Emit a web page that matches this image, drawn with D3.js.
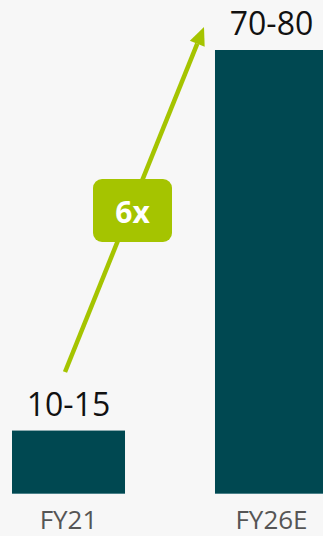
<!DOCTYPE html>
<html>
<head>
<meta charset="utf-8">
<script src="https://cdn.jsdelivr.net/npm/d3@7/dist/d3.min.js"></script>
<style>
  html, body { margin: 0; padding: 0; background: #f7f7f7; }
  svg { display: block; }
</style>
</head>
<body>
<svg id="chart" width="323" height="536"></svg>
<script>
// Fiscal years and the estimated range (low / high) for each
const years = ["FY21", "FY26E"];
const lowValues = [10, 70];
const highValues = [15, 80];
const rangeLabels = ["10-15", "70-80"];
const multipleLabel = "6x";

const W = 323, H = 536;
const baseline = 494;
const svg = d3.select("#chart");

svg.append("rect").attr("width", W).attr("height", H).attr("fill", "#f7f7f7");

const x = d3.scaleBand().domain(years).range([12, 328]).paddingInner(0.4433).paddingOuter(0);
const y = d3.scaleLinear().domain([0, 70]).range([baseline, 50]);

const teal = "#004851";
const green = "#a5c400";

// Bars drawn from the low end of each range
svg.selectAll("rect.bar").data(years).join("rect")
  .attr("class", "bar")
  .attr("x", d => x(d))
  .attr("width", x.bandwidth())
  .attr("y", (d, i) => y(lowValues[i]))
  .attr("height", (d, i) => baseline - y(lowValues[i]))
  .attr("fill", teal);

// thin lighter line at the base of each bar
svg.selectAll("rect.base").data(years).join("rect")
  .attr("class", "base")
  .attr("x", d => x(d))
  .attr("width", x.bandwidth())
  .attr("y", baseline - 1)
  .attr("height", 1)
  .attr("fill", "#4a8088");

// Range labels above bars
svg.selectAll("text.val").data(years).join("text")
  .attr("class", "val")
  .attr("x", d => x(d) + x.bandwidth() / 2)
  .attr("y", (d, i) => y(lowValues[i]) - 15)
  .attr("text-anchor", "middle")
  .attr("font-family", "'Open Sans', sans-serif")
  .attr("font-size", 32)
  .attr("fill", "#111")
  .text((d, i) => rangeLabels[i]);

// Category labels
svg.selectAll("text.cat").data(years).join("text")
  .attr("class", "cat")
  .attr("x", d => x(d) + x.bandwidth() / 2)
  .attr("y", 529)
  .attr("text-anchor", "middle")
  .attr("font-family", "'Open Sans', sans-serif")
  .attr("font-size", 26)
  .attr("fill", "#555")
  .text(d => d);

// Growth arrow
const x0 = x(years[0]) + x.bandwidth() / 2 - 3.5, y0 = 372;
const x1 = x(years[1]) - 11, y1 = 27;
const ang = Math.atan2(y1 - y0, x1 - x0);
const headLen = 18, headHalf = 8;
const bx = x1 - headLen * Math.cos(ang), by = y1 - headLen * Math.sin(ang);

svg.append("line")
  .attr("x1", x0).attr("y1", y0)
  .attr("x2", bx).attr("y2", by)
  .attr("stroke", green).attr("stroke-width", 4.5);

const px = -Math.sin(ang), py = Math.cos(ang);
svg.append("path")
  .attr("d", d3.line()([
    [x1, y1],
    [bx + px * headHalf, by + py * headHalf],
    [bx - px * headHalf, by - py * headHalf]
  ]) + "Z")
  .attr("fill", green);

// Multiple badge
svg.append("rect")
  .attr("x", 93).attr("y", 179)
  .attr("width", 79).attr("height", 63)
  .attr("rx", 9)
  .attr("fill", green);

svg.append("text")
  .attr("x", 132.5).attr("y", 223)
  .attr("text-anchor", "middle")
  .attr("font-family", "'Open Sans', sans-serif")
  .attr("font-weight", "bold")
  .attr("font-size", 30)
  .attr("fill", "#fff")
  .text(multipleLabel);
</script>
</body>
</html>
